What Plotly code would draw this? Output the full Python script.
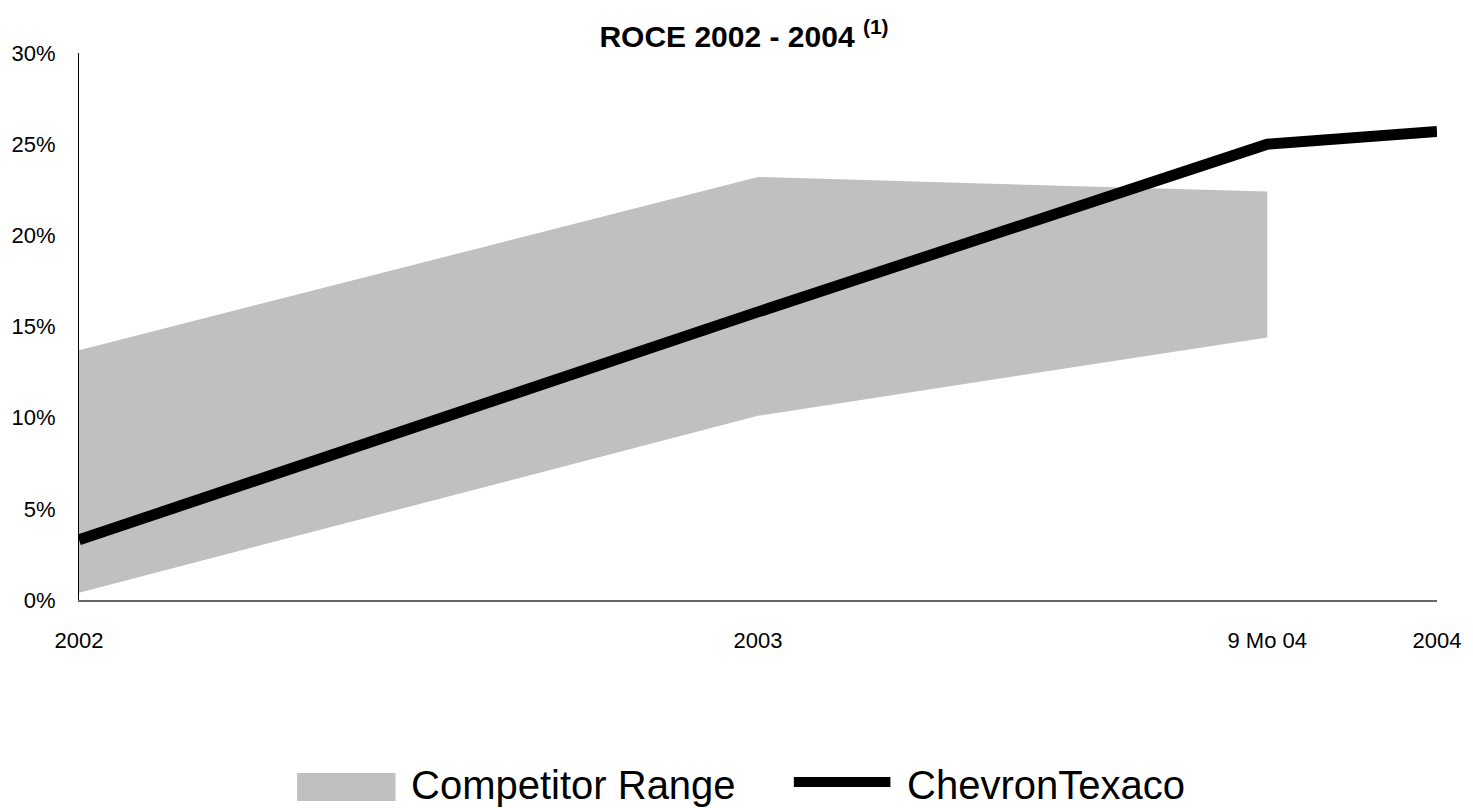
import plotly.graph_objects as go

# ---- data ----
period_labels = ["2002", "2003", "9 Mo 04", "2004"]
period_x = [2002.0, 2003.0, 2003.75, 2004.0]

comp_periods = [2002.0, 2003.0, 2003.75]
comp_upper = [0.137, 0.232, 0.224]
comp_lower = [0.004, 0.101, 0.144]

chevron_periods = [2002.0, 2003.0, 2003.75, 2004.0]
chevron_roce = [0.033, 0.158, 0.250, 0.257]

y_ticks = [0.0, 0.05, 0.10, 0.15, 0.20, 0.25, 0.30]

FONT = "Liberation Sans, Arial, Helvetica, sans-serif"
GRAY = "#c0c0c0"

fig = go.Figure()
fig.add_trace(go.Scatter(x=comp_periods, y=comp_lower, mode="lines",
                         line=dict(width=0, color=GRAY), showlegend=False,
                         hoverinfo="skip"))
fig.add_trace(go.Scatter(x=comp_periods, y=comp_upper, mode="lines",
                         line=dict(width=0, color=GRAY), fill="tonexty",
                         fillcolor=GRAY, name="Competitor Range",
                         showlegend=False))
fig.add_trace(go.Scatter(x=chevron_periods, y=chevron_roce, mode="lines",
                         line=dict(width=11, color="black"),
                         name="ChevronTexaco", showlegend=False))

# ---- manual legend (keys as shapes, labels as text) ----
fig.add_shape(type="rect", xref="paper", yref="paper",
              x0=0.1606, x1=0.2331, y0=-0.3675, y1=-0.3163,
              fillcolor=GRAY, line=dict(width=0))
fig.add_annotation(xref="paper", yref="paper", x=0.2427, y=-0.3382,
                   xanchor="left", yanchor="middle", showarrow=False,
                   text="Competitor Range",
                   font=dict(family=FONT, size=40, color="black"))
fig.add_shape(type="line", xref="paper", yref="paper",
              x0=0.5264, x1=0.5975, y0=-0.3327, y1=-0.3327,
              line=dict(width=10, color="black"))
fig.add_annotation(xref="paper", yref="paper", x=0.6085, y=-0.3382,
                   xanchor="left", yanchor="middle", showarrow=False,
                   text="ChevronTexaco",
                   font=dict(family=FONT, size=40, color="black"))

fig.update_layout(
    width=1473, height=808,
    margin=dict(l=77, r=32, t=53, b=208),
    paper_bgcolor="white", plot_bgcolor="white",
    font=dict(family=FONT, color="black"),
    title=dict(text="<b>ROCE 2002 - 2004</b> <sup><b>(1)</b></sup>",
               x=0.4897, xref="paper", xanchor="center",
               y=1 - 36 / 808, yref="container", yanchor="middle",
               font=dict(family=FONT, size=30, color="black")),
    showlegend=False,
)
fig.update_xaxes(range=[2002, 2004], tickvals=period_x, ticktext=period_labels,
                 showgrid=False, zeroline=False, showline=True,
                 linecolor="#666666", linewidth=2, ticks="",
                 ticklabelstandoff=20,
                 tickfont=dict(family=FONT, size=22, color="black"))
fig.update_yaxes(range=[0, 0.30], tickvals=y_ticks, tickformat=".0%",
                 showgrid=False, zeroline=False, showline=True,
                 linecolor="black", linewidth=1, ticks="",
                 ticklabelstandoff=18,
                 tickfont=dict(family=FONT, size=22, color="black"))

fig.write_html("out.html", config={"displayModeBar": False},
               post_script="document.body.style.margin='0px';"
                           "document.body.style.overflow='hidden';")
